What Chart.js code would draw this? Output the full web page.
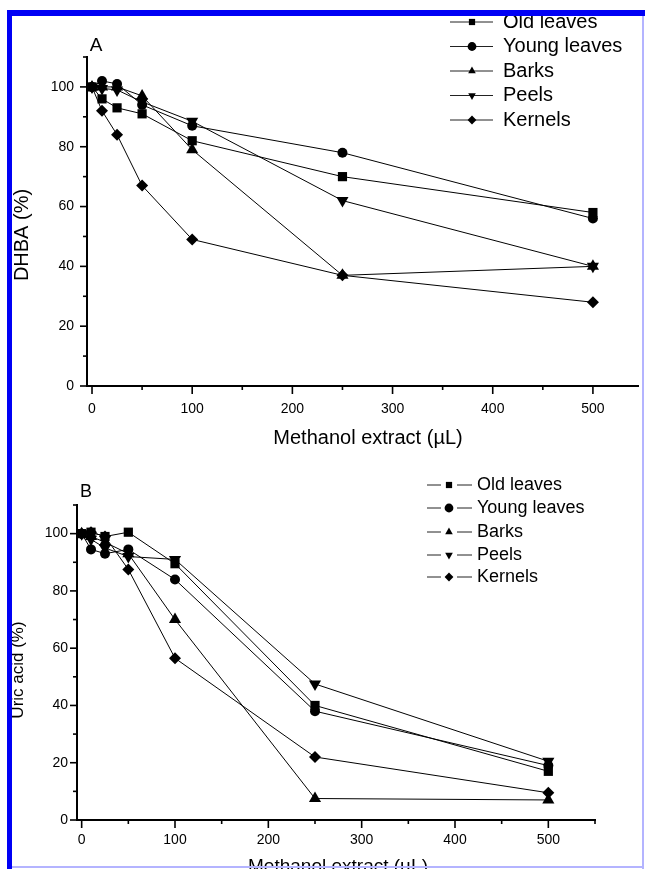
<!DOCTYPE html>
<html>
<head>
<meta charset="utf-8">
<title>DHBA and uric acid vs methanol extract</title>
<script src="https://cdn.jsdelivr.net/npm/chart.js@4.4.0/dist/chart.umd.min.js"></script>
<style>
  html, body { margin: 0; padding: 0; background: #fff; overflow: hidden; }
  #page { position: relative; width: 645px; height: 869px; }
  #chartA { position: absolute; left: 0; top: 0; }
  #chartB { position: absolute; left: 0; top: 460px; }
  .frame { position: absolute; }
  #frameTop { left: 7px; top: 10px; width: 638px; height: 6px; background: #0000f5; }
  #frameLeft { left: 7px; top: 10px; width: 5px; height: 859px; background: #0000f5; }
  #frameRight { left: 642px; top: 16px; width: 2px; height: 853px; background: #b4b4ff; }
  #frameBottom { left: 12px; top: 866px; width: 632px; height: 2px; background: #b4b4ff; }
</style>
</head>
<body>
<div id="page">
  <canvas id="chartA" width="645" height="460"></canvas>
  <canvas id="chartB" width="645" height="409"></canvas>
  <div class="frame" id="frameTop"></div>
  <div class="frame" id="frameLeft"></div>
  <div class="frame" id="frameRight"></div>
  <div class="frame" id="frameBottom"></div>
</div>
<script>
// methanol extract volumes (uL)
const doses = [0, 10, 25, 50, 100, 250, 500];
const seriesNames = ['Old leaves', 'Young leaves', 'Barks', 'Peels', 'Kernels'];

// panel A - DHBA (%)
const oldLeavesA = [100, 96, 93, 91, 82, 70, 58];
const youngLeavesA = [100, 102, 101, 94, 87, 78, 56];
const barksA = [100, 100, 100, 97, 79, 37, 40];
const peelsA = [100, 99.5, 99, 95, 88.5, 62, 40];
const kernelsA = [100, 92, 84, 67, 49, 37, 28];

// panel B - uric acid (%)
const oldLeavesB = [100, 100.5, 99, 100.5, 89.5, 40, 17];
const youngLeavesB = [100, 94.5, 93, 94.5, 84, 38, 19];
const barksB = [100, 99, 97, 93, 70, 7.5, 7];
const peelsB = [100, 98, 95, 92, 91, 47.5, 20.5];
const kernelsB = [100, 100.5, 99, 87.5, 56.5, 22, 9.5];

// tick positions (labelled ones every 100 / 20)
const xTicks = [0, 50, 100, 150, 200, 250, 300, 350, 400, 450, 500, 550];
const yTicks = [0, 10, 20, 30, 40, 50, 60, 70, 80, 90, 100, 110];

const markerStyles = ['rect', 'circle', 'triangle', 'triangle', 'rectRot'];
const markerRotation = [0, 0, 0, 180, 0];
const markerRadius = [6.5, 5, 7, 7, 6];
const FONT = '"Liberation Sans", Arial, Helvetica, sans-serif';

function drawMarker(ctx, i, r, x, y) {
    if (Chart.helpers && Chart.helpers.drawPoint) {
        ctx.fillStyle = '#000';
        ctx.strokeStyle = '#000';
        Chart.helpers.drawPoint(ctx, {pointStyle: markerStyles[i], rotation: markerRotation[i], radius: r, borderWidth: 0}, x, y);
    } else {
        ctx.beginPath();
        ctx.arc(x, y, r * 0.8, 0, Math.PI * 2);
        ctx.fill();
    }
}

// axis ticks, titles, panel letter and legend
const panelDeco = {
    id: 'panelDeco',
    afterDraw(chart, args, o) {
        const ctx = chart.ctx;
        const area = chart.chartArea;
        const xs = chart.scales.x, ys = chart.scales.y;
        ctx.save();
        ctx.strokeStyle = '#000';
        ctx.lineWidth = 1.6;
        xs.ticks.forEach(t => {
            const px = xs.getPixelForValue(t.value);
            const len = t.label !== '' ? 8 : 4;
            ctx.beginPath();
            ctx.moveTo(px, area.bottom);
            ctx.lineTo(px, area.bottom + len);
            ctx.stroke();
        });
        ys.ticks.forEach(t => {
            const py = ys.getPixelForValue(t.value);
            const len = t.label !== '' ? 7 : 4;
            ctx.beginPath();
            ctx.moveTo(area.left, py);
            ctx.lineTo(area.left - len, py);
            ctx.stroke();
        });

        ctx.fillStyle = '#000';
        ctx.textBaseline = 'middle';
        ctx.textAlign = 'center';
        ctx.font = o.titleFont + 'px ' + FONT;
        ctx.fillText(o.xTitle, o.xTitleX, o.xTitleY);
        ctx.save();
        ctx.translate(o.yTitleX, o.yTitleY);
        ctx.rotate(-Math.PI / 2);
        ctx.font = o.yTitleFont + 'px ' + FONT;
        ctx.fillText(o.yTitle, 0, 0);
        ctx.restore();

        ctx.font = o.letterFont + 'px ' + FONT;
        ctx.fillText(o.letter, o.letterX, o.letterY);

        // legend: line with the marker in the middle
        ctx.textAlign = 'left';
        ctx.font = o.legendFont + 'px ' + FONT;
        chart.data.datasets.forEach((ds, i) => {
            const y = o.legendRows[i];
            ctx.strokeStyle = '#222';
            ctx.lineWidth = 1;
            ctx.beginPath();
            if (o.legendGap) {
                ctx.moveTo(o.legendX1, y); ctx.lineTo(o.legendMark - o.legendGap, y);
                ctx.moveTo(o.legendMark + o.legendGap, y); ctx.lineTo(o.legendX2, y);
            } else {
                ctx.moveTo(o.legendX1, y); ctx.lineTo(o.legendX2, y);
            }
            ctx.stroke();
            drawMarker(ctx, i, 4.4, o.legendMark, y);
            ctx.fillStyle = '#000';
            ctx.fillText(ds.label, o.legendText, y);
        });
        ctx.restore();
    }
};

function makePanel(canvasId, series, cfg) {
    return new Chart(document.getElementById(canvasId), {
        type: 'line',
        data: {
            datasets: series.map((vals, i) => ({
                label: seriesNames[i],
                data: doses.map((d, j) => ({x: d, y: vals[j]})),
                borderColor: '#000',
                borderWidth: 1,
                tension: 0,
                fill: false,
                pointStyle: markerStyles[i],
                pointRotation: markerRotation[i],
                pointRadius: markerRadius[i],
                pointBackgroundColor: '#000',
                pointBorderColor: '#000',
                pointBorderWidth: 0
            }))
        },
        options: {
            responsive: false,
            animation: false,
            events: [],
            layout: { padding: cfg.padding },
            plugins: {
                legend: { display: false },
                tooltip: { enabled: false },
                panelDeco: cfg.deco
            },
            scales: {
                x: {
                    type: 'linear',
                    min: cfg.xMin,
                    max: cfg.xMax,
                    afterBuildTicks: s => { s.ticks = xTicks.filter(v => v >= s.min && v <= s.max).map(v => ({value: v})); },
                    afterFit: s => { s.height = cfg.xHeight; },
                    grid: { drawOnChartArea: false, drawTicks: false },
                    border: { display: true, color: '#000', width: 2 },
                    ticks: {
                        autoSkip: false, maxRotation: 0, color: '#000',
                        padding: cfg.xPad,
                        font: { family: FONT, size: cfg.xFont },
                        callback: v => (v % 100 === 0 ? v : '')
                    }
                },
                y: {
                    min: 0,
                    max: 110,
                    afterBuildTicks: s => { s.ticks = yTicks.map(v => ({value: v})); },
                    afterFit: s => { s.width = cfg.yWidth; },
                    grid: { drawOnChartArea: false, drawTicks: false },
                    border: { display: true, color: '#000', width: 2 },
                    ticks: {
                        autoSkip: false, color: '#000',
                        padding: cfg.yPad,
                        font: { family: FONT, size: 14 },
                        callback: v => (v % 20 === 0 ? v : '')
                    }
                }
            }
        },
        plugins: [panelDeco]
    });
}

makePanel('chartA', [oldLeavesA, youngLeavesA, barksA, peelsA, kernelsA], {
    padding: { top: 57, right: 2, left: 0, bottom: 0 },
    xMin: -5, xMax: 545, xHeight: 74, yWidth: 87, xPad: 15, yPad: 13, xFont: 14,
    deco: {
        xTitle: 'Methanol extract (\u00b5L)', xTitleX: 368, xTitleY: 438, titleFont: 20,
        yTitle: 'DHBA (%)', yTitleX: 22, yTitleY: 235, yTitleFont: 20,
        letter: 'A', letterX: 96, letterY: 46, letterFont: 19,
        legendRows: [22, 46.5, 71, 95.5, 120], legendX1: 450, legendX2: 493, legendMark: 472,
        legendGap: 0, legendText: 503, legendFont: 20
    }
});

makePanel('chartB', [oldLeavesB, youngLeavesB, barksB, peelsB, kernelsB], {
    padding: { top: 45, right: 50, left: 0, bottom: 0 },
    xMin: -5, xMax: 550, xHeight: 49, yWidth: 77, xPad: 12, yPad: 9, xFont: 14,
    deco: {
        xTitle: 'Methanol extract (\u00b5L)', xTitleX: 338, xTitleY: 407, titleFont: 19,
        yTitle: 'Uric acid (%)', yTitleX: 18, yTitleY: 210, yTitleFont: 17,
        letter: 'B', letterX: 86, letterY: 32, letterFont: 18,
        legendRows: [25, 48, 72, 95, 117], legendX1: 427, legendX2: 472, legendMark: 449,
        legendGap: 8, legendText: 477, legendFont: 18
    }
});
</script>
</body>
</html>
